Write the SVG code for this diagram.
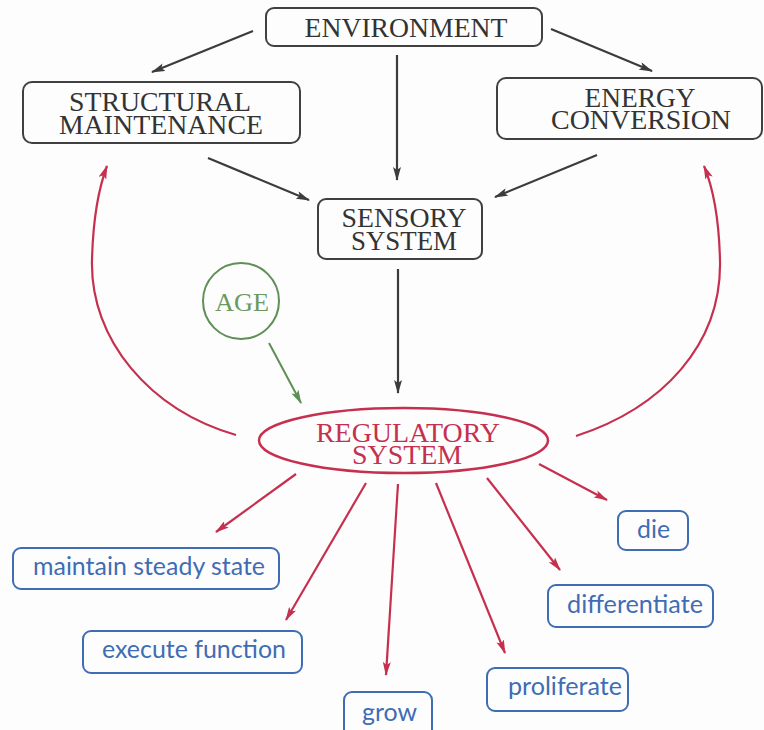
<svg xmlns="http://www.w3.org/2000/svg" width="764" height="730" viewBox="0 0 764 730">
  <defs>
    <marker id="ah-dark" viewBox="0 0 14 8" refX="13" refY="4" markerWidth="14" markerHeight="8" markerUnits="userSpaceOnUse" orient="auto">
      <path d="M0,0 L14,4 L0,8 L3,4 z" fill="#3c3c3c"/>
    </marker>
    <marker id="ah-red" viewBox="0 0 14 8" refX="13" refY="4" markerWidth="14" markerHeight="8" markerUnits="userSpaceOnUse" orient="auto">
      <path d="M0,0 L14,4 L0,8 L3,4 z" fill="#c6304f"/>
    </marker>
    <marker id="ah-green" viewBox="0 0 14 8" refX="13" refY="4" markerWidth="14" markerHeight="8" markerUnits="userSpaceOnUse" orient="auto">
      <path d="M0,0 L14,4 L0,8 L3,4 z" fill="#5e8f55"/>
    </marker>
    <style>
      .box { fill: none; stroke: #404040; stroke-width: 2; }
      .out { fill: none; stroke: #3f6db4; stroke-width: 2; }
      .cap { font-family: "Liberation Serif", "Times New Roman", serif; font-size: 27px; fill: #333; text-anchor: middle; }
      .red-t { fill: #c6304f; }
      .green-t { fill: #6b9a60; font-size: 26px; }
      .lbl { font-family: Lato, "Open Sans", sans-serif; font-size: 25px; fill: #3f6db4; }
      .c-dark { fill: none; stroke: #3c3c3c; stroke-width: 2.2; marker-end: url(#ah-dark); }
      .c-red { fill: none; stroke: #c6304f; stroke-width: 2.2; marker-end: url(#ah-red); }
      .c-green { fill: none; stroke: #5e8f55; stroke-width: 2; marker-end: url(#ah-green); }
    </style>
  </defs>

  <rect width="764" height="730" fill="#fdfdfd"/>

  <!-- top-level nodes -->
  <g id="environment">
    <rect class="box" x="266" y="8" width="276" height="38" rx="8"/>
    <text class="cap" x="406" y="37" textLength="203" lengthAdjust="spacingAndGlyphs">ENVIRONMENT</text>
  </g>
  <g id="structural-maintenance">
    <rect class="box" x="23" y="82" width="277" height="61" rx="9"/>
    <text class="cap" x="160" y="111" textLength="182" lengthAdjust="spacingAndGlyphs">STRUCTURAL</text>
    <text class="cap" x="161" y="134" textLength="204" lengthAdjust="spacingAndGlyphs">MAINTENANCE</text>
  </g>
  <g id="energy-conversion">
    <rect class="box" x="497" y="78" width="265" height="61" rx="9"/>
    <text class="cap" x="640" y="107" textLength="111" lengthAdjust="spacingAndGlyphs">ENERGY</text>
    <text class="cap" x="641" y="129" textLength="180" lengthAdjust="spacingAndGlyphs">CONVERSION</text>
  </g>
  <g id="sensory-system">
    <rect class="box" x="318" y="199" width="164" height="60" rx="8"/>
    <text class="cap" x="404" y="227" textLength="125" lengthAdjust="spacingAndGlyphs">SENSORY</text>
    <text class="cap" x="404" y="250" textLength="106" lengthAdjust="spacingAndGlyphs">SYSTEM</text>
  </g>
  <g id="age">
    <circle cx="241" cy="301" r="38" fill="none" stroke="#5e8f55" stroke-width="2"/>
    <text class="cap green-t" x="242" y="311" textLength="54" lengthAdjust="spacingAndGlyphs">AGE</text>
  </g>
  <g id="regulatory-system">
    <ellipse cx="403.5" cy="440.5" rx="144.5" ry="32.5" fill="none" stroke="#c6304f" stroke-width="2.5"/>
    <text class="cap red-t" x="408" y="442" textLength="184" lengthAdjust="spacingAndGlyphs">REGULATORY</text>
    <text class="cap red-t" x="407" y="464" textLength="110" lengthAdjust="spacingAndGlyphs">SYSTEM</text>
  </g>

  <!-- outcomes -->
  <g id="maintain-steady-state">
    <rect class="out" x="13" y="548" width="266" height="41" rx="8"/>
    <text class="lbl" x="33" y="575" textLength="232" lengthAdjust="spacingAndGlyphs">maintain steady state</text>
  </g>
  <g id="execute-function">
    <rect class="out" x="83" y="631" width="219" height="42" rx="8"/>
    <text class="lbl" x="102" y="658" textLength="184" lengthAdjust="spacingAndGlyphs">execute function</text>
  </g>
  <g id="grow">
    <rect class="out" x="344" y="692" width="88" height="46" rx="8"/>
    <text class="lbl" x="362" y="721" textLength="55" lengthAdjust="spacingAndGlyphs">grow</text>
  </g>
  <g id="proliferate">
    <rect class="out" x="487" y="668" width="141" height="43" rx="8"/>
    <text class="lbl" x="508" y="695" textLength="114" lengthAdjust="spacingAndGlyphs">proliferate</text>
  </g>
  <g id="differentiate">
    <rect class="out" x="548" y="585" width="165" height="42" rx="8"/>
    <text class="lbl" x="567" y="613" textLength="136" lengthAdjust="spacingAndGlyphs">differentiate</text>
  </g>
  <g id="die">
    <rect class="out" x="618" y="511" width="70" height="39" rx="8"/>
    <text class="lbl" x="637" y="538" textLength="33" lengthAdjust="spacingAndGlyphs">die</text>
  </g>

  <!-- connectors -->
  <g id="connectors">
    <line class="c-dark" x1="253" y1="31" x2="152" y2="72"/>
    <line class="c-dark" x1="397" y1="55" x2="397" y2="180"/>
    <line class="c-dark" x1="551" y1="29" x2="652" y2="71"/>
    <line class="c-dark" x1="208" y1="158" x2="309" y2="200"/>
    <line class="c-dark" x1="597" y1="155" x2="495" y2="197"/>
    <line class="c-dark" x1="398" y1="269" x2="398" y2="393"/>
    <line class="c-green" x1="269" y1="343" x2="301" y2="403"/>
    <path class="c-red" d="M236,435 C150,410 90,340 92,260 C93,220 98,190 107,166"/>
    <path class="c-red" d="M576,436 C662,408 722,345 720,260 C719,220 714,190 704,166"/>
    <line class="c-red" x1="296" y1="474" x2="216" y2="532"/>
    <line class="c-red" x1="366" y1="483" x2="286" y2="620"/>
    <line class="c-red" x1="398" y1="484" x2="386" y2="675"/>
    <line class="c-red" x1="436" y1="483" x2="505" y2="653"/>
    <line class="c-red" x1="487" y1="478" x2="560" y2="570"/>
    <line class="c-red" x1="539" y1="464" x2="607" y2="500"/>
  </g>
</svg>
